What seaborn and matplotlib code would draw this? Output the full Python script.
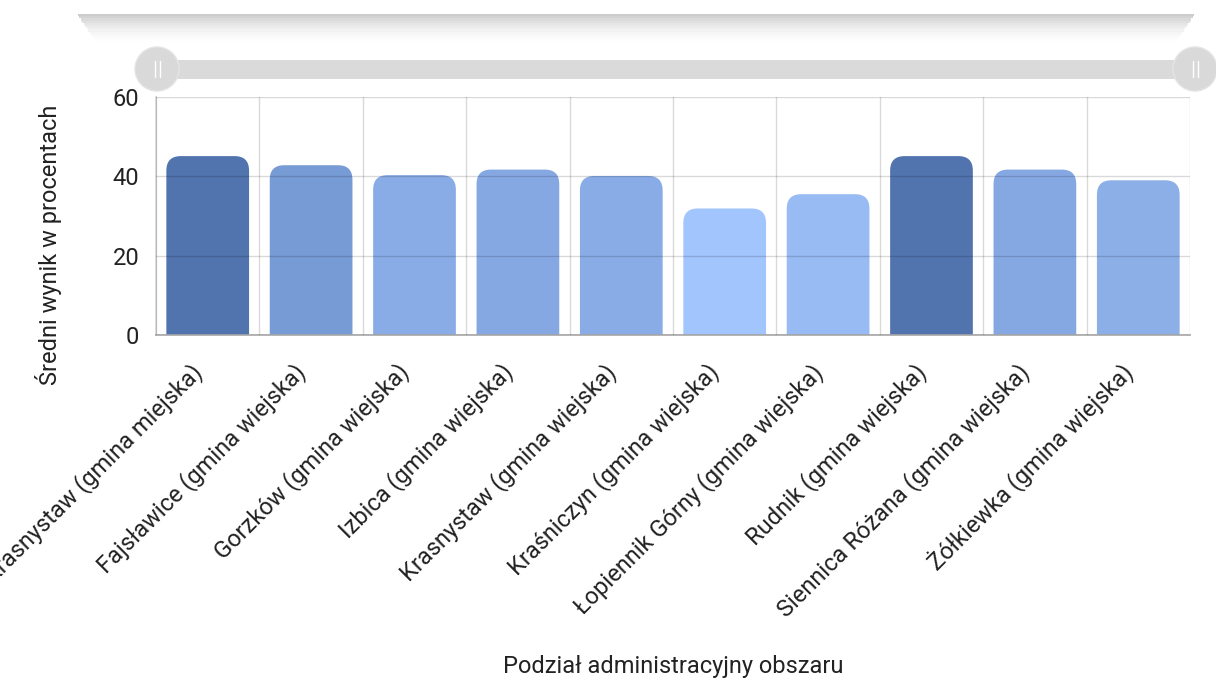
import seaborn as sns
import matplotlib.pyplot as plt
import matplotlib.transforms as mtransforms
import pandas as pd
from matplotlib.patches import FancyBboxPatch, Ellipse, Rectangle

# Data
regions = [
    "Krasnystaw (gmina miejska)",
    "Fajsławice (gmina wiejska)",
    "Gorzków (gmina wiejska)",
    "Izbica (gmina wiejska)",
    "Krasnystaw (gmina wiejska)",
    "Kraśniczyn (gmina wiejska)",
    "Łopiennik Górny (gmina wiejska)",
    "Rudnik (gmina wiejska)",
    "Siennica Różana (gmina wiejska)",
    "Żółkiewka (gmina wiejska)",
]
scores = [45.1, 42.8, 40.3, 41.7, 40.1, 31.9, 35.5, 45.1, 41.7, 39.0]
bar_colors = ["#5274ae", "#779bd5", "#89ace6", "#86a8e2", "#89ace6",
              "#a3c5fd", "#98bbf3", "#5274ae", "#86a8e2", "#8cafe8"]

df = pd.DataFrame({"region": regions, "score": scores})

sns.set_theme(style="white")
plt.rcParams["font.family"] = ["Roboto", "DejaVu Sans"]

fig = plt.figure(figsize=(12.16, 6.86), dpi=100)
ax = fig.add_axes([0.1283, 0.5117, 0.8503, 0.3469])

sns.barplot(data=df, x="region", y="score", hue="region", palette=bar_colors,
            saturation=1, legend=False, width=0.8, ax=ax, zorder=2)

# swap plain bars for ones with rounded tops
px_x = (len(regions)) / (0.8503 * 1216)
px_y = 60 / (0.3469 * 686)
aspect = px_y / px_x
for p in list(ax.patches):
    x, w, h = p.get_x(), p.get_width(), p.get_height()
    fc = p.get_facecolor()
    p.remove()
    ax.add_patch(FancyBboxPatch((x, -8), w, h + 8,
                                boxstyle="round,pad=0,rounding_size=0.14",
                                mutation_aspect=aspect, facecolor=fc,
                                edgecolor="none", zorder=2, clip_on=True))

ax.set_ylim(0, 60)
ax.set_xlim(-0.5, len(regions) - 0.5)
ax.set_yticks([0, 20, 40, 60])
ax.set_xticks(range(len(regions)))
ax.set_xticks([i - 0.5 for i in range(len(regions) + 1)], minor=True)
ax.set_xticklabels(regions, rotation=45, ha="right", va="center",
                   rotation_mode="anchor")
ax.tick_params(axis="both", length=0, labelsize=17, colors="#222222")
ax.tick_params(axis="x", pad=24)
ax.tick_params(axis="y", pad=12)
# nudge the slanted labels a little to the left
shift = mtransforms.ScaledTranslation(-0.09, 0, fig.dpi_scale_trans)
for lbl in ax.get_xticklabels():
    lbl.set_transform(lbl.get_transform() + shift)

# grid on top of bars, translucent
ax.grid(axis="y", which="major", color="black", alpha=0.15, lw=1, zorder=3)
ax.grid(axis="x", which="minor", color="black", alpha=0.15, lw=1, zorder=3)
ax.set_axisbelow(False)
for side in ["top", "right"]:
    ax.spines[side].set_visible(False)
ax.spines["left"].set_color("#d6d6d6")
ax.spines["bottom"].set_color("#aaaaaa")

ax.set_xlabel("Podział administracyjny obszaru", fontsize=17, color="#222222",
              labelpad=0)
ax.xaxis.set_label_coords(0.5, -1.345)
ax.set_ylabel("Średni wynik w procentach", fontsize=17, color="#222222")
ax.yaxis.set_label_coords(-0.091, 0.38)

# card shadow at the top
W, H = 1216, 686
for i in range(14):
    y0 = 14 + i * 2.2
    fig.patches.append(Rectangle((78 / W + i * 0.0012, 1 - (y0 + 2.2) / H),
                                 (1194 - 78) / W - i * 0.0024, 2.2 / H,
                                 transform=fig.transFigure, facecolor="black",
                                 alpha=0.2 * (1 - i / 14) ** 2, lw=0))

# range slider above the plot
fig.patches.append(Rectangle((168 / W, 1 - 79 / H), (1190 - 168) / W, 19 / H,
                             transform=fig.transFigure, facecolor="#dadada",
                             lw=0))
for cx in [157, 1195]:
    fig.patches.append(Ellipse((cx / W, 1 - 69 / H), 44 / W, 44 / H,
                               transform=fig.transFigure, facecolor="#d9d9d9",
                               edgecolor="#e4e4e4", lw=1))
    for dx in [-2.5, 2.5]:
        fig.lines.append(plt.Line2D([(cx + dx) / W] * 2,
                                    [1 - 61 / H, 1 - 77 / H],
                                    transform=fig.transFigure,
                                    color="white", lw=1))

fig.savefig("out.png", dpi=100)
